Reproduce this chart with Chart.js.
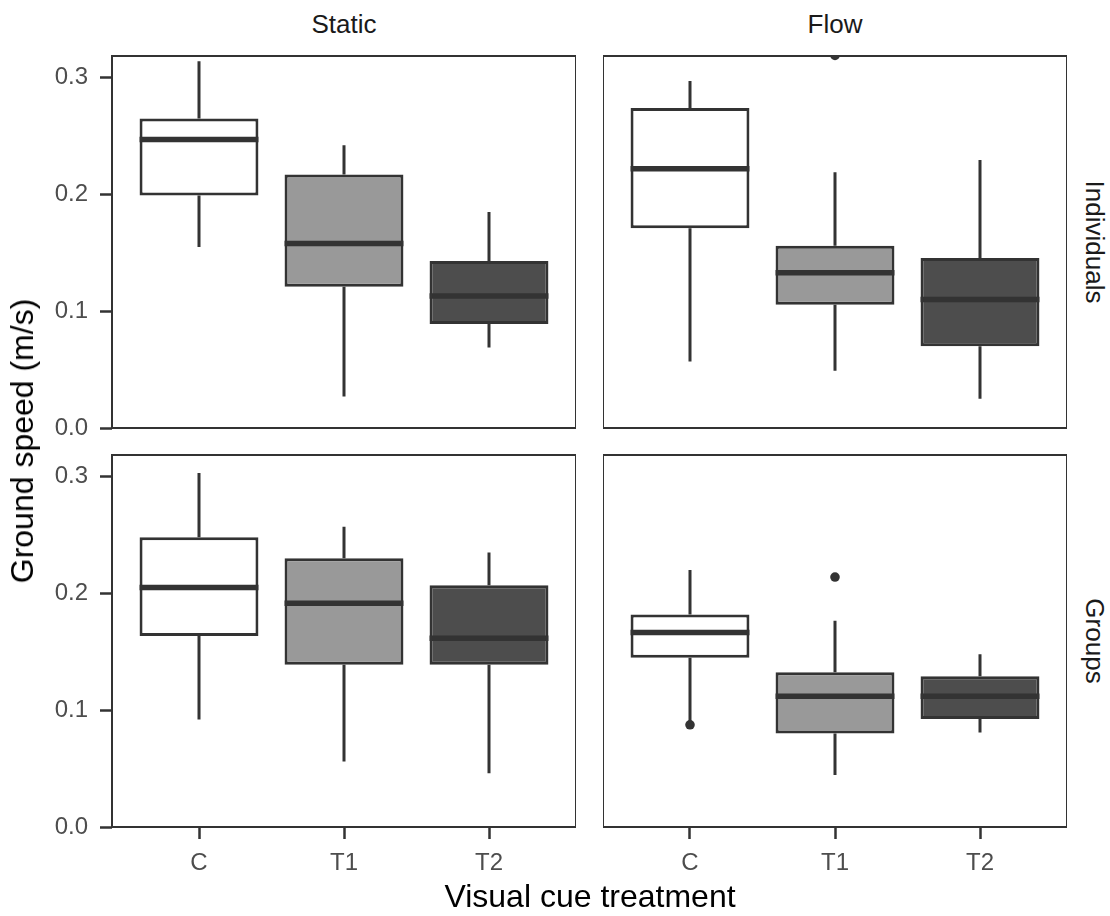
<!DOCTYPE html>
<html>
<head>
<meta charset="utf-8">
<script src="https://cdn.jsdelivr.net/npm/chart.js@4.4.1/dist/chart.umd.min.js"></script>
<style>
  body { margin: 0; background: #fff; }
  #wrap { position: relative; width: 1110px; height: 916px; font-family: "Liberation Sans", Arial, sans-serif; }
  canvas { position: absolute; }
  .lbl { position: absolute; white-space: nowrap; line-height: 1; transform: translate(-50%, -50%); }
  .strip { font-size: 26px; color: #1a1a1a; }
  .title { font-size: 32px; color: #000; }
</style>
</head>
<body>
<div id="wrap">
  <canvas id="indStatic" width="564" height="396" style="left:12px;top:44px"></canvas>
  <canvas id="indFlow" width="464" height="396" style="left:603px;top:44px"></canvas>
  <canvas id="grpStatic" width="564" height="444" style="left:12px;top:443px"></canvas>
  <canvas id="grpFlow" width="464" height="444" style="left:603px;top:443px"></canvas>

  <div class="lbl strip" style="left:344px;top:24px">Static</div>
  <div class="lbl strip" style="left:835px;top:24px">Flow</div>
  <div class="lbl strip" style="left:1095px;top:242px;transform:translate(-50%,-50%) rotate(90deg)">Individuals</div>
  <div class="lbl strip" style="left:1095px;top:641px;transform:translate(-50%,-50%) rotate(90deg)">Groups</div>
  <div class="lbl title" style="left:22px;top:441px;transform:translate(-50%,-50%) rotate(-90deg)">Ground speed (m/s)</div>
  <div class="lbl title" style="left:590px;top:896px">Visual cue treatment</div>
</div>
<script>
// treatments on the x axis
const categories = ['C', 'T1', 'T2'];
const yTicks = [0, 0.1, 0.2, 0.3];

// Individuals / Static
const indStaticLow  = [0.155, 0.027, 0.069];
const indStaticQ1   = [0.199, 0.121, 0.089];
const indStaticMed  = [0.247, 0.158, 0.113];
const indStaticQ3   = [0.265, 0.217, 0.143];
const indStaticHigh = [0.314, 0.242, 0.185];
const indStaticOut  = [[], [], []];

// Individuals / Flow
const indFlowLow  = [0.057, 0.049, 0.025];
const indFlowQ1   = [0.171, 0.1055, 0.070];
const indFlowMed  = [0.222, 0.133, 0.110];
const indFlowQ3   = [0.274, 0.156, 0.1455];
const indFlowHigh = [0.297, 0.219, 0.2295];
const indFlowOut  = [[], [0.319], []];

// Groups / Static
const grpStaticLow  = [0.092, 0.056, 0.046];
const grpStaticQ1   = [0.1635, 0.139, 0.139];
const grpStaticMed  = [0.205, 0.1915, 0.1615];
const grpStaticQ3   = [0.248, 0.230, 0.207];
const grpStaticHigh = [0.303, 0.257, 0.235];
const grpStaticOut  = [[], [], []];

// Groups / Flow
const grpFlowLow  = [0.089, 0.0445, 0.081];
const grpFlowQ1   = [0.145, 0.080, 0.0925];
const grpFlowMed  = [0.1665, 0.112, 0.112];
const grpFlowQ3   = [0.182, 0.1325, 0.129];
const grpFlowHigh = [0.220, 0.1765, 0.148];
const grpFlowOut  = [[0.0875], [0.214], []];

const fills = ['#ffffff', '#999999', '#4d4d4d'];
const ink = '#333333';

Chart.defaults.font.family = '"Liberation Sans", Arial, sans-serif';
Chart.defaults.animation = false;

function buildPanel(id, p, showY, showX) {
  const boxes = categories.map((c, i) => ({ x: i + 1, y: [p.q1[i], p.q3[i]] }));
  const outliers = [];
  p.out.forEach((vals, i) => vals.forEach(v => outliers.push({ x: i + 1, y: v })));

  const boxParts = {
    id: 'boxParts',
    afterDatasetsDraw(chart) {
      const { ctx, chartArea } = chart;
      const x = chart.scales.x, y = chart.scales.y;
      const bars = chart.getDatasetMeta(0).data;
      ctx.save();
      ctx.strokeStyle = ink;
      ctx.lineCap = 'butt';
      ctx.lineWidth = 3;
      categories.forEach((c, i) => {
        const px = x.getPixelForValue(i + 1);
        ctx.beginPath();
        ctx.moveTo(px, y.getPixelForValue(p.q3[i]));
        ctx.lineTo(px, y.getPixelForValue(p.high[i]));
        ctx.moveTo(px, y.getPixelForValue(p.q1[i]));
        ctx.lineTo(px, y.getPixelForValue(p.low[i]));
        ctx.stroke();
      });
      ctx.lineWidth = 5.5;
      categories.forEach((c, i) => {
        const half = bars[i].width / 2;
        const px = x.getPixelForValue(i + 1);
        const py = y.getPixelForValue(p.med[i]);
        ctx.beginPath();
        ctx.moveTo(px - half, py);
        ctx.lineTo(px + half, py);
        ctx.stroke();
      });
      // panel frame
      ctx.lineWidth = 2;
      ctx.strokeRect(chartArea.left, chartArea.top, chartArea.right - chartArea.left, chartArea.bottom - chartArea.top);
      ctx.restore();
    }
  };

  return new Chart(document.getElementById(id), {
    type: 'bar',
    data: {
      datasets: [
        {
          data: boxes,
          backgroundColor: fills,
          borderColor: ink,
          borderWidth: 3,
          borderSkipped: false,
          categoryPercentage: 1,
          barPercentage: 0.82,
        },
        {
          type: 'scatter',
          data: outliers,
          pointRadius: 4.8,
          backgroundColor: ink,
          borderWidth: 0,
          clip: 0,
        },
      ],
    },
    options: {
      responsive: false,
      layout: { autoPadding: false, padding: { top: 12, bottom: showX ? 0 : 12, left: 0, right: 0 } },
      plugins: { legend: { display: false }, tooltip: { enabled: false } },
      scales: {
        x: {
          type: 'linear',
          min: 0.4,
          max: 3.6,
          offset: false,
          display: showX,
          afterBuildTicks: s => { s.ticks = categories.map((c, i) => ({ value: i + 1 })); },
          afterFit: s => { s.height = showX ? 60 : 0; s.paddingLeft = 0; s.paddingRight = 0; },
          grid: { offset: false, drawOnChartArea: false, tickLength: 12, tickWidth: 2.5, tickColor: ink },
          border: { display: false },
          ticks: {
            callback: v => categories[v - 1],
            color: '#4d4d4d',
            font: { size: 24 },
            padding: 10,
            maxRotation: 0,
            autoSkip: false,
          },
        },
        y: {
          min: 0,
          max: 0.3185,
          display: showY,
          afterBuildTicks: s => { s.ticks = yTicks.map(v => ({ value: v })); },
          afterFit: s => { s.width = showY ? 100 : 0; s.paddingTop = 0; s.paddingBottom = 0; },
          grid: { drawOnChartArea: false, tickLength: 12, tickWidth: 2.5, tickColor: ink },
          border: { display: false },
          ticks: {
            callback: v => v.toFixed(1),
            color: '#4d4d4d',
            font: { size: 24 },
            padding: 12,
          },
        },
      },
    },
    plugins: [boxParts],
  });
}

buildPanel('indStatic', { low: indStaticLow, q1: indStaticQ1, med: indStaticMed, q3: indStaticQ3, high: indStaticHigh, out: indStaticOut }, true, false);
buildPanel('indFlow', { low: indFlowLow, q1: indFlowQ1, med: indFlowMed, q3: indFlowQ3, high: indFlowHigh, out: indFlowOut }, false, false);
buildPanel('grpStatic', { low: grpStaticLow, q1: grpStaticQ1, med: grpStaticMed, q3: grpStaticQ3, high: grpStaticHigh, out: grpStaticOut }, true, true);
buildPanel('grpFlow', { low: grpFlowLow, q1: grpFlowQ1, med: grpFlowMed, q3: grpFlowQ3, high: grpFlowHigh, out: grpFlowOut }, false, true);
</script>
</body>
</html>
